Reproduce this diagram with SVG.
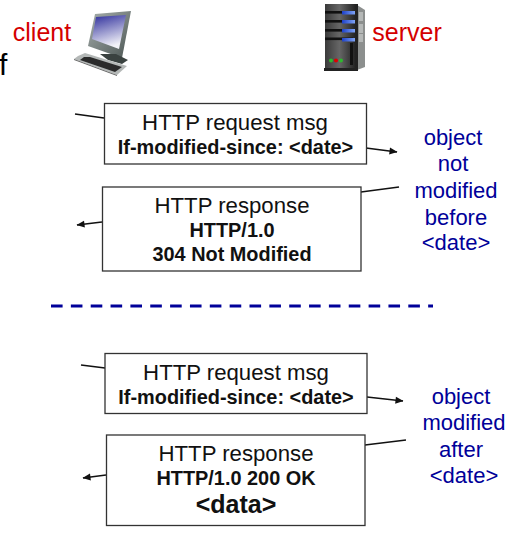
<svg xmlns="http://www.w3.org/2000/svg" width="510" height="533" viewBox="0 0 510 533">
<style>
text{font-family:"Liberation Sans",Arial,sans-serif;text-anchor:middle}
.box{fill:#fff;stroke:#333;stroke-width:1.3}
.t{font-size:22.2px;fill:#111}
.b{font-size:19.9px;font-weight:bold;fill:#111}
.red{font-size:25px;fill:#d40000}
.blue{font-size:22px;fill:#000099}
.c{fill:none;stroke:#111;stroke-width:1.6}
.a{marker-end:url(#arr)}
</style>
<defs>
<marker id="arr" markerUnits="userSpaceOnUse" markerWidth="9" markerHeight="8" refX="8.500" refY="4" orient="auto"><path d="M1 0.500L9 4L1 7.500Z" fill="#111"/></marker>
<linearGradient id="scr" x1="0" y1="0" x2="0.3" y2="1"><stop offset="0" stop-color="#2a2a9a"/><stop offset="1" stop-color="#f2f2f8"/></linearGradient>
<linearGradient id="mon" x1="0" y1="0" x2="1" y2="1"><stop offset="0" stop-color="#a8b0ae"/><stop offset="1" stop-color="#4c5654"/></linearGradient>
<linearGradient id="tower" x1="0" y1="0" x2="1" y2="0"><stop offset="0" stop-color="#3a3a3a"/><stop offset="0.45" stop-color="#666"/><stop offset="1" stop-color="#1c1c1c"/></linearGradient>
<linearGradient id="led" x1="0" y1="0" x2="1" y2="0"><stop offset="0" stop-color="#1c3fc8"/><stop offset="1" stop-color="#7fa4f5"/></linearGradient>
</defs>

<text x="42" y="41" class="red">client</text>
<text x="407" y="41" class="red">server</text>
<text x="-1" y="75" style="font-size:30px;text-anchor:start;fill:#000">f</text>

<g id="client-computer">
<path d="M95 14L131 11L122 58L88 46Z" fill="url(#mon)"/>
<path d="M96 17L126 15L119 49L92 39Z" fill="url(#scr)"/>
<path d="M100 54L116 54L128 60L122 64L108 60Z" fill="#3a4240"/>
<path d="M78 56L85 53L127 66L117 75L74 59Z" fill="#b4b8b7"/>
<path d="M84 57L90 57L122 67L115 72L80 60Z" fill="#2b2b2b"/>
<path d="M74 59L117 75L117 76L74 60Z" fill="#666"/>
</g>

<g id="server-computer">
<path d="M357 5L365 10L365 67L357 70Z" fill="#8c8f8e"/>
<rect x="325" y="4" width="32" height="64" fill="url(#tower)"/>
<rect x="355" y="4" width="3" height="65" fill="#222"/>
<path d="M324 68H358V71H324Z" fill="#222"/>
<g fill="#111">
<rect x="325" y="11" width="28" height="2.600"/><rect x="325" y="20" width="28" height="2.600"/><rect x="325" y="29" width="28" height="2.600"/><rect x="325" y="37.500" width="28" height="2.600"/>
</g>
<g fill="url(#led)">
<rect x="342" y="11" width="13" height="3.500"/><rect x="342" y="20" width="13" height="3.500"/><rect x="342" y="29" width="13" height="3.500"/><rect x="342" y="38" width="13" height="3.500"/>
</g>
<rect x="350" y="43" width="3" height="22" fill="#111"/>
<circle cx="331" cy="60.500" r="2" fill="#2eb82e"/><circle cx="336" cy="60.500" r="2" fill="#e00000"/><circle cx="341" cy="60.500" r="2" fill="#2eb82e"/>
<g fill="#b5b8b7"><rect x="359" y="12" width="4" height="9"/><rect x="359" y="24" width="4" height="9"/><rect x="359" y="34" width="4" height="8"/></g>
</g>

<g id="connectors">
<path class="c" d="M75 114L104 118"/>
<path class="c a" d="M366 148L397 152"/>
<path class="c" d="M361 192L399 187"/>
<path class="c a" d="M102 222L77 225"/>
<path class="c" d="M81 365L105 368"/>
<path class="c a" d="M367 397L403 401"/>
<path class="c" d="M365 445L406 440"/>
<path class="c a" d="M106 475L83 478"/>
<path d="M51 306H433" fill="none" stroke="#000099" stroke-width="3" stroke-dasharray="11.600 8.250"/>
</g>

<g id="request-1">
<rect class="box" x="104.500" y="103.500" width="262" height="60.500"/>
<text x="235" y="130" class="t">HTTP request msg</text>
<text x="235.500" y="154" class="b">If-modified-since: &lt;date&gt;</text>
</g>
<g id="response-1">
<rect class="box" x="102.500" y="187" width="258.500" height="84"/>
<text x="232" y="213" class="t">HTTP response</text>
<text x="232" y="237" class="b">HTTP/1.0</text>
<text x="232" y="261" class="b">304 Not Modified</text>
</g>
<g id="note-1">
<text x="453" y="145" class="blue">object</text>
<text x="453" y="171" class="blue">not</text>
<text x="456" y="198" class="blue">modified</text>
<text x="456" y="225" class="blue">before</text>
<text x="456" y="250" class="blue">&lt;date&gt;</text>
</g>
<g id="request-2">
<rect class="box" x="105" y="353.500" width="262" height="60"/>
<text x="236" y="380" class="t">HTTP request msg</text>
<text x="236" y="404" class="b">If-modified-since: &lt;date&gt;</text>
</g>
<g id="response-2">
<rect class="box" x="106.500" y="435" width="258.500" height="90.500"/>
<text x="236" y="461" class="t">HTTP response</text>
<text x="236" y="485" class="b">HTTP/1.0 200 OK</text>
<text x="236" y="513" style="font-size:25px;font-weight:bold;fill:#111">&lt;data&gt;</text>
</g>
<g id="note-2">
<text x="461" y="404" class="blue">object</text>
<text x="464" y="430" class="blue">modified</text>
<text x="461" y="457" class="blue">after</text>
<text x="464" y="483" class="blue">&lt;date&gt;</text>
</g>
</svg>
